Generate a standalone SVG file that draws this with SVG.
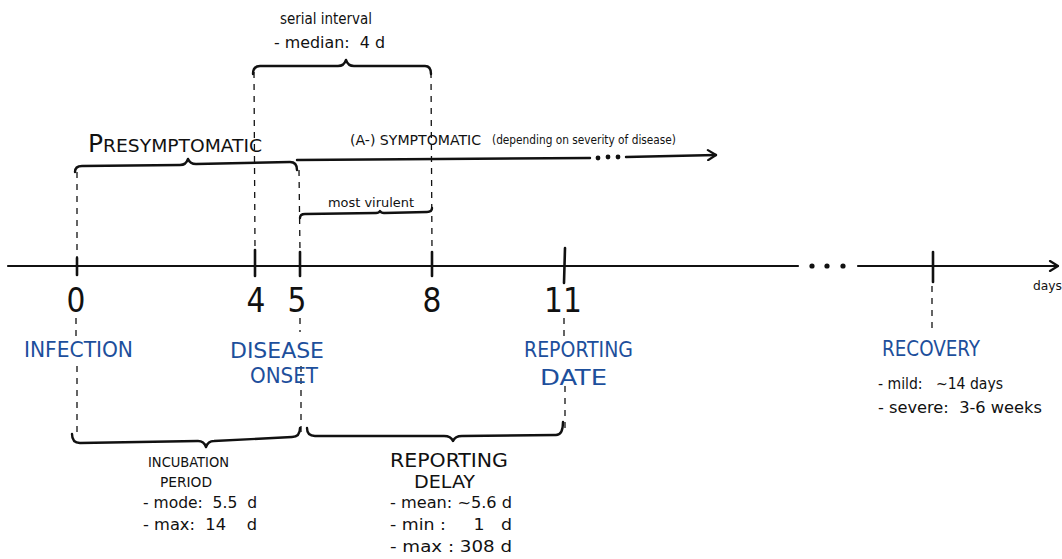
<svg xmlns="http://www.w3.org/2000/svg" width="1062" height="559" viewBox="0 0 1062 559">
  <style>
    .hand { font-family: "DejaVu Sans", "Liberation Sans", sans-serif; font-stretch: condensed; fill: #111; white-space: pre; }
    .blue { font-family: "DejaVu Sans", "Liberation Sans", sans-serif; font-stretch: condensed; fill: #1d4f9c; }
    .axis { stroke: #111; stroke-width: 2.2; fill: none; stroke-linecap: round; }
    .tick { stroke: #111; stroke-width: 2.6; fill: none; stroke-linecap: round; }
    .brace { stroke: #111; stroke-width: 2.4; fill: none; stroke-linecap: round; stroke-linejoin: round; }
    .dash { stroke: #111; stroke-width: 1.3; fill: none; stroke-dasharray: 6 6; }
    .dot { fill: #111; }
  </style>
  <defs>
    <marker id="chev" viewBox="0 0 12 12" refX="10" refY="6" markerWidth="12" markerHeight="12" markerUnits="userSpaceOnUse" orient="auto">
      <path d="M2,1 L10,6 L2,11" fill="none" stroke="#111" stroke-width="2.2" stroke-linecap="round" stroke-linejoin="round"/>
    </marker>
  </defs>

  <rect width="1062" height="559" fill="#ffffff"/>

  <!-- connectors: time axis, ticks, guide lines, braces -->
  <g id="connectors">
    <!-- time axis -->
    <path class="axis" d="M8,266 L798,266"/>
    <circle class="dot" cx="812" cy="266" r="2.6"/>
    <circle class="dot" cx="827" cy="266" r="2.6"/>
    <circle class="dot" cx="843" cy="266" r="2.6"/>
    <path class="axis" d="M858,266 L1058,266" marker-end="url(#chev)"/>

    <!-- ticks -->
    <path class="tick" d="M77,258 L77,275"/>
    <path class="tick" d="M255,250 L255,276"/>
    <path class="tick" d="M300,252 L300,276"/>
    <path class="tick" d="M432,252 L432,276"/>
    <path class="tick" d="M565,248 L564,283"/>
    <path class="tick" d="M933,252 L933,282"/>

    <!-- dashed guide lines -->
    <path class="dash" d="M77,172 L77,258"/>
    <path class="dash" d="M76,318 L76,336"/>
    <path class="dash" d="M77,366 L77,436"/>
    <path class="dash" d="M254,72 L255,250"/>
    <path class="dash" d="M299,170 L300,252"/>
    <path class="dash" d="M300,318 L300,332"/>
    <path class="dash" d="M301,366 L301,432"/>
    <path class="dash" d="M431,72 L432,252"/>
    <path class="dash" d="M564,318 L564,336"/>
    <path class="dash" d="M565,386 L565,428"/>
    <path class="dash" d="M932,286 L932,330"/>

    <!-- serial interval brace -->
    <path class="brace" d="M253,74 Q253,66 260,66 L338,66 Q344,66 346,60 Q348,66 354,66 L425,66 Q431,66 431,74"/>
    <!-- presymptomatic brace -->
    <path class="brace" d="M75,172 Q75,166 82,166 L180,165 Q186,165 188,159 Q190,164 196,164 L290,162 Q297,162 297,170"/>
    <!-- symptomatic arrow -->
    <path class="brace" d="M297,160 L590,158"/>
    <circle class="dot" cx="598" cy="158" r="2.4"/>
    <circle class="dot" cx="608" cy="157" r="2.4"/>
    <circle class="dot" cx="618" cy="157" r="2.4"/>
    <path class="brace" d="M626,157 L716,155" marker-end="url(#chev)"/>
    <!-- most virulent brace -->
    <path class="brace" d="M300,218 Q300,214 305,214 L376,213 Q379,213 380,211 Q381,213 384,213 L427,212 Q432,212 432,208"/>
    <!-- incubation period brace -->
    <path class="brace" d="M72,434 Q72,443 80,443 L198,441 Q204,441 206,447 Q208,441 214,441 L292,437 Q300,437 300,428"/>
    <!-- reporting delay brace -->
    <path class="brace" d="M307,428 Q307,436 315,436 L444,436 Q451,436 453,441 Q455,436 462,436 L556,435 Q563,435 563,422"/>
  </g>

  <!-- serial interval annotation -->
  <g id="serial-interval">
    <text class="hand" x="280" y="24" font-size="16" textLength="92" lengthAdjust="spacingAndGlyphs">serial interval</text>
    <text class="hand" x="274" y="48" font-size="16" textLength="111" lengthAdjust="spacingAndGlyphs" xml:space="preserve">- median:  4 d</text>
  </g>

  <!-- infection stages -->
  <g id="presymptomatic">
    <text class="hand" x="88" y="152" textLength="174" lengthAdjust="spacingAndGlyphs"><tspan font-size="24">P</tspan><tspan font-size="18">RESYMPTOMATIC</tspan></text>
  </g>
  <g id="symptomatic">
    <text class="hand" x="350" y="145" font-size="14" textLength="131" lengthAdjust="spacingAndGlyphs">(A-) SYMPTOMATIC</text>
    <text class="hand" x="492" y="144" font-size="11.5" textLength="184" lengthAdjust="spacingAndGlyphs">(depending on severity of disease)</text>
  </g>
  <g id="most-virulent">
    <text class="hand" x="328" y="207" font-size="13" textLength="86" lengthAdjust="spacingAndGlyphs">most virulent</text>
  </g>

  <!-- day numbers -->
  <g id="day-labels" class="hand" font-size="33" text-anchor="middle">
    <text x="76" y="312">0</text>
    <text x="256" y="312">4</text>
    <text x="297" y="312">5</text>
    <text x="432" y="312">8</text>
    <text x="563" y="312">11</text>
  </g>
  <g id="days-unit">
    <text class="hand" x="1033" y="290" font-size="12" textLength="29" lengthAdjust="spacingAndGlyphs">days</text>
  </g>

  <!-- events -->
  <g id="infection">
    <text class="blue" x="24" y="357" font-size="22" textLength="109" lengthAdjust="spacingAndGlyphs">INFECTION</text>
  </g>
  <g id="disease-onset">
    <text class="blue" x="230" y="358" font-size="22" textLength="94" lengthAdjust="spacingAndGlyphs">DISEASE</text>
    <text class="blue" x="250" y="383" font-size="22" textLength="68" lengthAdjust="spacingAndGlyphs">ONSET</text>
  </g>
  <g id="reporting-date">
    <text class="blue" x="524" y="357" font-size="22" textLength="109" lengthAdjust="spacingAndGlyphs">REPORTING</text>
    <text class="blue" x="540" y="385" font-size="22" textLength="67" lengthAdjust="spacingAndGlyphs">DATE</text>
  </g>
  <g id="recovery">
    <text class="blue" x="882" y="356" font-size="21" textLength="98" lengthAdjust="spacingAndGlyphs">RECOVERY</text>
    <text class="hand" x="878" y="389" font-size="15" textLength="125" lengthAdjust="spacingAndGlyphs" xml:space="preserve">- mild:   ~14 days</text>
    <text class="hand" x="878" y="413" font-size="15" textLength="164" lengthAdjust="spacingAndGlyphs" xml:space="preserve">- severe:  3-6 weeks</text>
  </g>

  <!-- durations -->
  <g id="incubation-period">
    <text class="hand" x="148" y="467" font-size="14" textLength="81" lengthAdjust="spacingAndGlyphs">INCUBATION</text>
    <text class="hand" x="160" y="487" font-size="14" textLength="52" lengthAdjust="spacingAndGlyphs">PERIOD</text>
    <text class="hand" x="143" y="508" font-size="16" textLength="114" lengthAdjust="spacingAndGlyphs" xml:space="preserve">- mode:  5.5  d</text>
    <text class="hand" x="143" y="530" font-size="16" textLength="114" lengthAdjust="spacingAndGlyphs" xml:space="preserve">- max:  14    d</text>
  </g>
  <g id="reporting-delay">
    <text class="hand" x="390" y="467" font-size="20" textLength="118" lengthAdjust="spacingAndGlyphs">REPORTING</text>
    <text class="hand" x="414" y="488" font-size="18" textLength="61" lengthAdjust="spacingAndGlyphs">DELAY</text>
    <text class="hand" x="390" y="508" font-size="16" textLength="122" lengthAdjust="spacingAndGlyphs">- mean: ~5.6 d</text>
    <text class="hand" x="390" y="530" font-size="16" textLength="122" lengthAdjust="spacingAndGlyphs" xml:space="preserve">- min :     1   d</text>
    <text class="hand" x="390" y="552" font-size="16" textLength="122" lengthAdjust="spacingAndGlyphs">- max : 308 d</text>
  </g>
</svg>
